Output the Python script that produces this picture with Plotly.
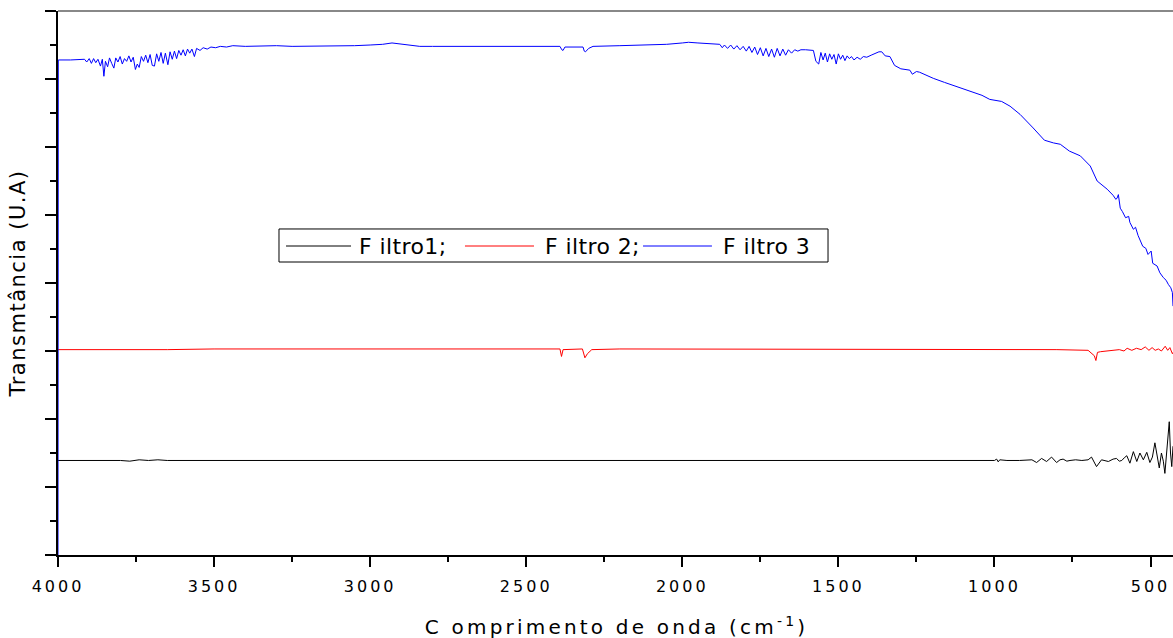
import plotly.graph_objects as go

# FTIR transmittance spectra of three filters (wavenumber in cm^-1, transmittance in arbitrary units)

filtro3_cm = [
    4000, 3999, 3960, 3930, 3915, 3908, 3900, 3893, 3886, 3879, 3872, 3864, 3858, 3853, 3848,
    3841, 3835, 3828, 3821, 3815, 3808, 3801, 3794, 3787, 3780, 3773, 3766, 3759, 3752, 3746,
    3740, 3733, 3726, 3719, 3712, 3705, 3698, 3691, 3684, 3677, 3670, 3663, 3656, 3648, 3641,
    3634, 3627, 3620, 3613, 3606, 3599, 3592, 3585, 3578, 3571, 3563, 3556, 3545, 3535, 3522,
    3510, 3495, 3480, 3460, 3440, 3400, 3350, 3300, 3250, 3200, 3100, 3050, 3000, 2960, 2930,
    2900, 2860, 2841, 2800, 2700, 2600, 2500, 2420, 2392, 2386, 2382, 2376, 2330, 2318, 2314,
    2310, 2300, 2286, 2200, 2100, 2050, 2000, 1980, 1950, 1910, 1890,
    1880, 1872, 1865, 1855, 1845, 1835, 1825, 1815, 1805, 1795, 1786, 1777, 1768, 1759, 1750,
    1741, 1732, 1723, 1714, 1705, 1696, 1687, 1678, 1669, 1660, 1650, 1640, 1630, 1620, 1605,
    1590, 1580, 1572, 1563, 1556, 1549, 1542, 1535, 1528, 1521, 1514, 1507, 1500, 1493, 1486,
    1479, 1472, 1465, 1458, 1450, 1440, 1430, 1420, 1409, 1395, 1380, 1370, 1361, 1350, 1335,
    1320, 1300, 1281, 1271, 1263, 1250, 1240, 1211, 1196, 1160, 1120, 1068, 1040, 1015, 990,
    977, 950, 918, 876, 840, 811, 789, 760, 725, 693, 671, 639, 620, 611, 607,
    603, 597, 590, 580, 570, 566, 555, 548, 540, 525, 515, 508, 498, 493, 479,
    470, 459, 450, 443, 435, 430, 428,
]
filtro3_t = [
    0.0, 72.8, 72.8, 72.9, 72.9, 72.5, 73.0, 72.3, 73.0, 72.4, 72.9, 71.9, 72.9, 70.4, 72.6,
    71.8, 73.1, 72.3, 71.6, 73.1, 72.5, 73.3, 72.2, 73.0, 72.6, 73.4, 72.5, 73.2, 71.4, 72.2,
    71.7, 73.3, 72.6, 73.5, 72.4, 73.6, 72.0, 71.9, 73.7, 72.6, 73.9, 72.3, 73.8, 72.1, 74.0,
    72.9, 74.1, 73.0, 74.2, 73.5, 74.3, 73.4, 74.4, 73.8, 74.4, 73.3, 74.5, 74.2, 74.6, 74.4,
    74.7, 74.6, 74.8, 74.7, 74.9, 74.8, 74.9, 74.9, 74.8, 74.8, 74.8, 74.9, 75.0, 75.1, 75.3,
    75.1, 74.9, 74.8, 74.8, 74.8, 74.8, 74.8, 74.8, 74.8, 74.3, 74.2, 74.7, 74.7, 74.7, 74.1,
    74.0, 74.5, 74.8, 74.9, 75.0, 75.1, 75.3, 75.4, 75.3, 75.2, 75.2,
    75.1, 74.6, 75.0, 74.5, 75.0, 74.4, 74.9, 74.3, 74.8, 74.1, 74.8, 73.9, 74.7, 73.6, 74.6,
    73.4, 74.5, 73.3, 74.4, 73.2, 74.5, 73.4, 74.4, 73.5, 74.3, 73.8, 74.3, 74.1, 74.3, 74.3,
    74.2, 74.2, 72.6, 72.2, 73.9, 72.8, 73.8, 72.5, 73.7, 72.9, 73.6, 72.2, 73.7, 72.9, 73.5,
    72.7, 73.4, 73.0, 73.3, 72.8, 73.2, 72.9, 73.3, 73.2, 73.5, 73.8, 74.0, 74.0, 73.4, 73.3,
    72.0, 71.5, 71.4, 71.3, 70.7, 71.1, 71.0, 70.4, 70.1, 69.5, 68.9, 68.1, 67.6, 67.0, 66.8,
    66.7, 66.0, 64.8, 62.8, 61.0, 60.6, 60.4, 59.4, 58.7, 57.2, 55.0, 53.8, 52.9, 52.3, 52.5,
    53.0, 51.0, 50.5, 49.6, 49.8, 48.9, 47.9, 48.2, 47.0, 45.4, 45.1, 44.2, 44.7, 42.9, 42.5,
    41.5, 40.8, 40.4, 39.8, 39.3, 38.6, 36.6,
]

filtro2_cm = [
    4000, 3900, 3800, 3720, 3650, 3500, 3000, 2500, 2392, 2387, 2382, 2320, 2312, 2304, 2290,
    2200, 2000, 1800, 1600, 1400, 1200, 1000, 800, 700, 690, 680, 675, 670, 660, 640,
    620, 600, 585, 575, 560, 545, 530, 517, 505, 495, 485, 475, 465, 458, 453,
    445, 438, 430, 428,
]
filtro2_t = [
    30.2, 30.2, 30.2, 30.1, 30.2, 30.3, 30.3, 30.3, 30.3, 29.2, 30.2, 30.3, 29.0, 29.6, 30.2,
    30.3, 30.3, 30.2, 30.2, 30.2, 30.2, 30.2, 30.2, 30.1, 29.7, 29.3, 28.6, 29.8, 29.9, 30.0,
    30.1, 30.2, 30.0, 30.4, 30.1, 30.4, 30.2, 30.6, 30.1, 30.5, 30.1, 30.3, 30.0, 30.4, 30.7,
    30.1, 30.5, 29.6, 29.8,
]

filtro1_cm = [
    4000, 3950, 3900, 3870, 3840, 3800, 3770, 3740, 3710, 3680, 3650, 3600, 3500, 3000, 2500,
    2000, 1500, 1200, 1000, 993, 988, 983, 960, 920, 897, 880, 865, 849, 833, 817,
    801, 790, 780, 768, 758, 740, 720, 700, 689, 673, 657, 645, 635, 620, 609,
    600, 592, 584, 576, 566, 555, 544, 534, 523, 512, 502, 494, 486, 479, 472,
    465, 459, 454, 447, 440, 436, 432, 428,
]
filtro1_t = [
    13.9, 13.9, 14.0, 13.9, 14.0, 13.9, 13.8, 14.0, 13.9, 14.0, 13.9, 13.9, 13.9, 13.9, 13.9,
    13.9, 13.95, 13.9, 13.9, 14.1, 13.7, 14.0, 13.9, 13.9, 13.9, 14.0, 13.6, 14.2, 13.75, 14.4,
    13.6, 14.0, 14.1, 13.8, 13.9, 14.0, 13.9, 14.0, 14.4, 13.0, 14.0, 13.8, 13.75, 14.1, 14.2,
    13.8, 13.9, 14.3, 14.6, 13.5, 15.2, 13.75, 15.0, 14.0, 15.1, 13.6, 14.4, 16.5, 14.5, 12.8,
    15.0, 13.8, 12.0, 15.5, 19.6, 15.0, 13.0, 16.0,
]

series_names = ["F iltro1;", "F iltro 2;", "F iltro 3"]
series_colors = ["#000000", "#ff0000", "#0000ff"]

x_ticks = [4000, 3500, 3000, 2500, 2000, 1500, 1000, 500]
x_range = [4000, 428]
y_range = [0, 80]
x_title = "C omprimento de onda (cm<sup>-1</sup>)"
y_title = "Transmtância (U.A)"

FONT = "DejaVu Sans"

fig = go.Figure()
for xs, ys, name, color in zip(
    [filtro1_cm, filtro2_cm, filtro3_cm],
    [filtro1_t, filtro2_t, filtro3_t],
    series_names, series_colors,
):
    fig.add_trace(go.Scatter(x=xs, y=ys, mode="lines", name=name, showlegend=False,
                             line=dict(color=color, width=1)))

# Boxed horizontal key (long line samples followed by the series names)
key_box = dict(x0=0.1982, x1=0.6906, y0=0.5386, y1=0.5993)
key_y = 0.5680
key_lines = [(0.2045, 0.2628), (0.3650, 0.4269), (0.5247, 0.5865)]
key_text_x = [0.2682, 0.4350, 0.5946]

shapes = [
    # thin grey frame line along the top of the plot area
    dict(type="line", xref="paper", yref="paper", x0=0, x1=1, y0=1, y1=1,
         line=dict(color="#888888", width=2)),
    dict(type="rect", xref="paper", yref="paper", fillcolor="white",
         line=dict(color="black", width=1), **key_box),
]
annotations = []
for (lx0, lx1), tx, name, color in zip(key_lines, key_text_x, series_names, series_colors):
    shapes.append(dict(type="line", xref="paper", yref="paper", x0=lx0, x1=lx1,
                       y0=key_y, y1=key_y, line=dict(color=color, width=1)))
    annotations.append(dict(xref="paper", yref="paper", x=tx, y=key_y, text=name,
                            showarrow=False, xanchor="left", yanchor="middle", align="left",
                            font=dict(size=22, family=FONT, color="black")))

# x-axis title near the bottom edge, under the tick labels
annotations.append(dict(xref="paper", yref="paper", x=0.501, y=-0.131, text=x_title,
                        showarrow=False, xanchor="center", yanchor="middle",
                        font=dict(size=20, family=FONT, color="black")))

fig.update_layout(
    width=1173, height=638,
    margin=dict(l=58, r=0, t=11, b=83),
    paper_bgcolor="white", plot_bgcolor="white",
    font=dict(family=FONT, color="black"),
    showlegend=False,
    xaxis=dict(
        range=x_range, tickvals=x_ticks, ticks="outside", ticklen=10, tickwidth=2,
        tickcolor="black", showline=True, linewidth=2, linecolor="black",
        showgrid=False, zeroline=False, tickfont=dict(size=16, family=FONT),
        ticklabelstandoff=6,
        minor=dict(dtick=250, ticks="outside", ticklen=5, tickwidth=2, tickcolor="black"),
        layer="below traces",
    ),
    yaxis=dict(
        range=y_range, dtick=10, ticks="outside", ticklen=11, tickwidth=2,
        tickcolor="black", showline=True, linewidth=2, linecolor="black",
        showgrid=False, zeroline=False, showticklabels=False,
        minor=dict(dtick=5, ticks="outside", ticklen=6, tickwidth=2, tickcolor="black"),
        title=dict(text=y_title, font=dict(size=21, family=FONT), standoff=14),
        layer="below traces",
    ),
    shapes=shapes,
    annotations=annotations,
)

# Letter spacing for the titles, tick labels and key text
spacing_css = (
    ".ytitle{letter-spacing:1.5px}"
    ".xtick text{letter-spacing:3px}"
    ".annotation-text{letter-spacing:0.4px}"
    ".annotation[data-index=\"3\"] .annotation-text{letter-spacing:3.2px}"
)
post_script = (
    "var st=document.createElement('style');"
    "st.textContent='" + spacing_css + "';"
    "document.head.appendChild(st);"
)

fig.write_html("out.html", post_script=post_script)
